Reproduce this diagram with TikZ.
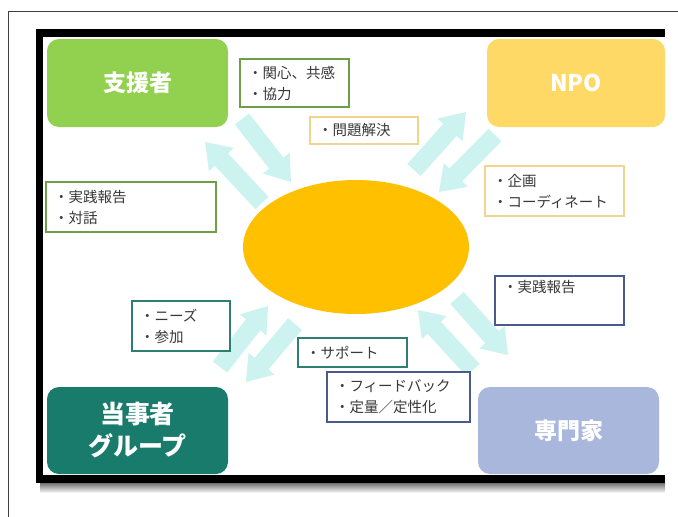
\documentclass[tikz,border=0pt]{standalone}
\usepackage{fontspec}
\setmainfont{Noto Sans CJK JP}
\usetikzlibrary{calc}
\definecolor{cGreen}{HTML}{92D050}
\definecolor{cNPO}{HTML}{FFD966}
\definecolor{cTeal}{HTML}{187B6B}
\definecolor{cLav}{HTML}{A9B7DD}
\definecolor{cEll}{HTML}{FFC000}
\definecolor{cArr}{HTML}{CCF3EF}
\definecolor{bGreen}{HTML}{6E9E45}
\definecolor{bOrange}{HTML}{F0D58C}
\definecolor{bTeal}{HTML}{2E7F72}
\definecolor{bBlue}{HTML}{4A5A8A}
\definecolor{txt}{HTML}{383838}
\newcommand\blockarrow[2]{%
  \fill[cArr] let \p1=(#1), \p2=(#2), \n1={atan2(\y2-\y1,\x2-\x1)}, \n2={veclen(\x2-\x1,\y2-\y1)} in
  [shift={(\p1)}, rotate=\n1] (0,-9) -- (\n2-24,-9) -- (\n2-24,-17) -- (\n2,0) -- (\n2-24,17) -- (\n2-24,9) -- (0,9) -- cycle;}
\tikzset{
  titlebox/.style={rounded corners=12pt, minimum width=181pt, minimum height=88pt, text=white,
    font=\fontsize{23}{31}\selectfont\bfseries, align=center, inner sep=0pt},
  lbl/.style={draw, fill=white, line width=1.1pt, align=left, text=txt,
    font=\fontsize{14.5}{21}\selectfont, inner xsep=8pt, inner ysep=0pt}
}
\begin{document}
\begin{tikzpicture}[x=1pt,y=-1pt]
\useasboundingbox (0,0) rectangle (678,517);
\fill[white] (0,0) rectangle (678,517);
% outer thin frame
\draw[line width=0.9pt, black!75] (8,517) -- (8,11) -- (678,11);
% shadow
\shade[top color=black!55, bottom color=white] (40,483) rectangle (665,493);
% black frame
\fill[white] (36,29) rectangle (665,483);
\fill[black] (36,29) rectangle (665,37);
\fill[black] (36,29) rectangle (43,483);
\fill[black] (36,475) rectangle (665,483);
% title boxes
\node[titlebox, fill=cGreen] (shien) at (137.5,83) {支援者};
\node[titlebox, fill=cNPO, minimum width=178pt] (npo) at (576,83) {NPO};
\node[titlebox, fill=cTeal, minimum height=87pt, font=\fontsize{25}{32}\selectfont\bfseries] (toji) at (137.5,430.5) {当事者\\グループ};
\node[titlebox, fill=cLav, minimum height=87pt] (senmon) at (568.5,430.5) {専門家};
% ellipse
\fill[cEll] (356,247) ellipse [x radius=113, y radius=67];
\coordinate (ell) at (356,247);
% arrow end points
\coordinate (a1s) at (262,203); \coordinate (a1e) at (205,142);
\coordinate (a2s) at (242,119); \coordinate (a2e) at (291,182);
\coordinate (a3s) at (414,170); \coordinate (a3e) at (466,112);
\coordinate (a4s) at (495,135); \coordinate (a4e) at (439,192);
\coordinate (a5s) at (220,367); \coordinate (a5e) at (268,306);
\coordinate (a6s) at (295,324); \coordinate (a6e) at (246,382);
\coordinate (a7s) at (473,370); \coordinate (a7e) at (418,310);
\coordinate (a8s) at (457,298); \coordinate (a8e) at (508,355);
\blockarrow{a1s}{a1e}
\blockarrow{a2s}{a2e}
\blockarrow{a3s}{a3e}
\blockarrow{a4s}{a4e}
\blockarrow{a5s}{a5e}
\blockarrow{a6s}{a6e}
\blockarrow{a7s}{a7e}
\blockarrow{a8s}{a8e}
% labels
\node[lbl, draw=bGreen, text width=93pt, minimum height=48pt] (kanshin) at (294.5,83) {・関心、共感\\・協力};
\node[lbl, draw=bOrange, text width=92pt, minimum height=27pt] (mondai) at (364,130.5) {・問題解決};
\node[lbl, draw=bGreen, text width=154pt, minimum height=50pt] (jissen1) at (131,207) {・実践報告\\・対話};
\node[lbl, draw=bOrange, text width=123pt, minimum height=50pt] (kikaku) at (554.5,191) {・企画\\・コーディネート};
\node[lbl, draw=bBlue, text width=113pt, minimum height=49pt] (jissen2) at (559.5,300.5) {・実践報告\\\strut};
\node[lbl, draw=bTeal, text width=82pt, minimum height=50pt] (needs) at (181,326) {・ニーズ\\・参加};
\node[lbl, draw=bTeal, text width=93pt, minimum height=29pt] (support) at (352.5,352.5) {・サポート};
\node[lbl, draw=bBlue, text width=127pt, minimum height=50pt] (feedback) at (398.5,397) {・フィードバック\\・定量／定性化};
\end{tikzpicture}
\end{document}
